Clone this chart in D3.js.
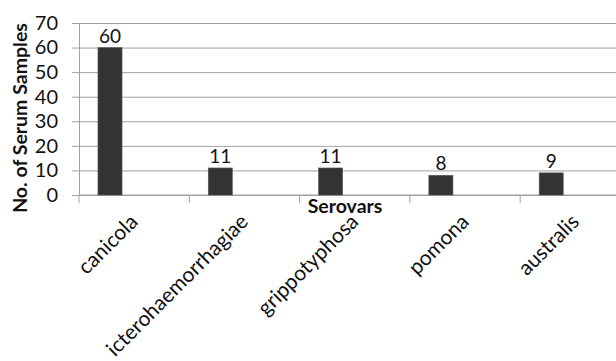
<!DOCTYPE html>
<html>
<head>
<meta charset="utf-8">
<script src="https://cdn.jsdelivr.net/npm/d3@7"></script>
<style>
  html, body { margin: 0; padding: 0; background: #fff; }
  svg { display: block; }
  text { font-family: Lato, "Open Sans", sans-serif; fill: #111; }
</style>
</head>
<body>
<svg id="chart" width="616" height="361"></svg>
<script>
// Serovar counts
const categories = ["canicola", "icterohaemorrhagiae", "grippotyphosa", "pomona", "australis"];
const counts = [60, 11, 11, 8, 9];
const yTicks = [0, 10, 20, 30, 40, 50, 60, 70];

const svg = d3.select("#chart");
const plot = { left: 79, right: 630.5, top: 23, bottom: 195 };

const x = d3.scaleBand().domain(categories).range([plot.left, plot.right]).padding(0);
const y = d3.scaleLinear().domain([0, 70]).range([plot.bottom, plot.top]);
const bw = x.bandwidth();

// horizontal gridlines with outside ticks
const yAxis = d3.axisLeft(y).tickValues(yTicks).tickSize(-(plot.right - plot.left)).tickSizeOuter(0).tickPadding(21);
const gy = svg.append("g").attr("transform", `translate(${plot.left},0)`).call(yAxis);
gy.select(".domain").attr("stroke", "#a0a0a0");
gy.selectAll(".tick line").attr("stroke", "#a0a0a0").attr("x1", -7);
gy.selectAll(".tick text").attr("font-size", 20).attr("fill", "#111").attr("font-family", "Lato, sans-serif");

// category axis: boundary ticks only
const gx = svg.append("g");
gx.append("line")
  .attr("x1", plot.left).attr("x2", plot.right)
  .attr("y1", y(0)).attr("y2", y(0))
  .attr("stroke", "#a0a0a0");
gx.selectAll("line.bound")
  .data(categories)
  .join("line")
  .attr("class", "bound")
  .attr("x1", d => x(d)).attr("x2", d => x(d))
  .attr("y1", y(0)).attr("y2", y(0) + 8)
  .attr("stroke", "#a0a0a0");

// bars
const barOffset = bw * 0.172, barWidth = bw * 0.218;
svg.append("g").selectAll("rect")
  .data(categories)
  .join("rect")
  .attr("x", d => x(d) + barOffset)
  .attr("width", barWidth)
  .attr("y", (d, i) => y(counts[i]))
  .attr("height", (d, i) => y(0) - y(counts[i]))
  .attr("fill", "#333333")
  .attr("stroke", "#555")
  .attr("stroke-width", 0.6);

// value labels
svg.append("g").selectAll("text")
  .data(categories)
  .join("text")
  .attr("x", d => x(d) + barOffset + barWidth / 2)
  .attr("y", (d, i) => y(counts[i]) - 5)
  .attr("text-anchor", "middle")
  .attr("font-size", 19)
  .text((d, i) => counts[i]);

// rotated category labels
svg.append("g").selectAll("text")
  .data(categories)
  .join("text")
  .attr("transform", d => `translate(${x(d) + bw / 2 + 5},${223}) rotate(-45)`)
  .attr("text-anchor", "end")
  .attr("font-size", 21)
  .text(d => d);

// axis titles
svg.append("text")
  .attr("x", 345).attr("y", 213)
  .attr("text-anchor", "middle")
  .attr("font-size", 19.5).attr("font-weight", "bold")
  .text("Serovars");

svg.append("text")
  .attr("transform", `translate(27,118) rotate(-90)`)
  .attr("text-anchor", "middle")
  .attr("font-size", 19.5).attr("font-weight", "bold")
  .text("No. of Serum Samples");
</script>
</body>
</html>
